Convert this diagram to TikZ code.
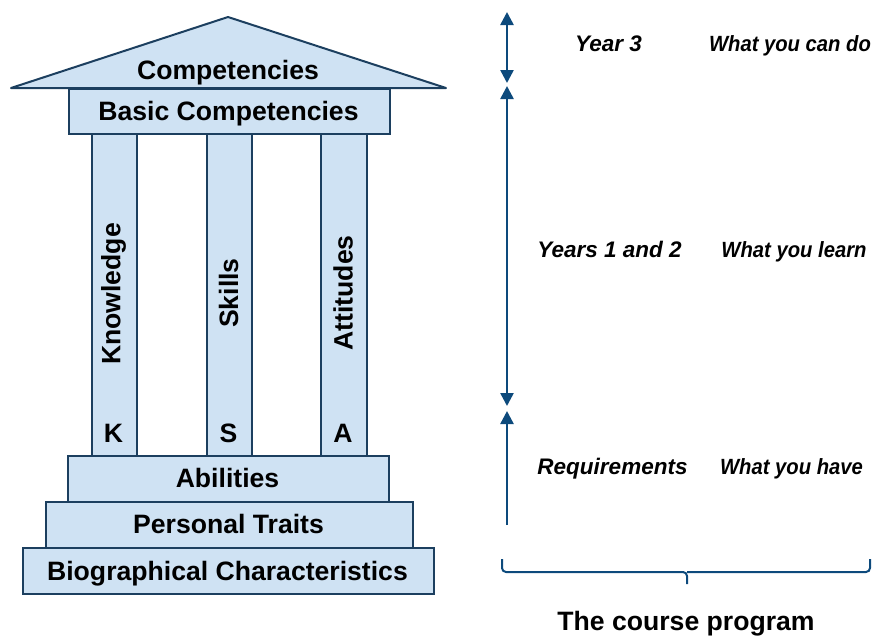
\documentclass[tikz,border=0pt]{standalone}
\usepackage{graphicx}
\usepackage{fontspec}
\setmainfont{Liberation Sans}
\usetikzlibrary{arrows.meta}
\definecolor{fillblue}{HTML}{CFE2F3}
\definecolor{edgeblue}{HTML}{1C3F5F}
\definecolor{arrowblue}{HTML}{0D4A7C}
\newcommand{\narrowtxt}[1]{\scalebox{0.92}[1]{#1}}
\tikzset{
  block/.style={draw=edgeblue, fill=fillblue, line width=2pt, inner sep=0pt, anchor=north west},
  lbl/.style={font=\fontsize{26.6}{28}\selectfont\bfseries, text=black, inner sep=0pt, anchor=base},
  vlbl/.style={font=\fontsize{26.6}{28}\selectfont\bfseries, text=black, inner sep=0pt, rotate=90},
  sidel/.style={font=\fontsize{22.5}{24}\selectfont\bfseries\itshape, text=black, inner sep=0pt, anchor=base},
  sider/.style={font=\fontsize{22}{24}\selectfont\bfseries\itshape, text=black, inner sep=0pt, anchor=base},
  timeline/.style={draw=arrowblue, line width=2.5pt},
  tipboth/.style={{Triangle[width=13pt,length=13pt]}-{Triangle[width=13pt,length=13pt]}},
  tipend/.style={-{Triangle[width=13pt,length=13pt]}},
}
\begin{document}
\begin{tikzpicture}[x=1pt,y=-1pt]
\useasboundingbox (0,0) rectangle (880,638);
% pillars
\node[block, minimum width=45pt, minimum height=322pt] (pk) at (91,133) {};
\node[block, minimum width=45pt, minimum height=322pt] (ps) at (206,133) {};
\node[block, minimum width=46pt, minimum height=322pt] (pa) at (320,133) {};
% roof
\draw[draw=edgeblue, fill=fillblue, line width=2pt, line join=round] (11,88) -- (228,17) -- (446,88) -- cycle;
\node[lbl] (comp) at (228,79) {Competencies};
% basic competencies
\node[block, minimum width=321pt, minimum height=45pt] (basic) at (68,88) {};
\node[lbl] (basict) at (228.5,120) {Basic Competencies};
% base steps
\node[block, minimum width=411pt, minimum height=46pt] (bio) at (22,547) {};
\node[lbl] (biot) at (227.5,580) {Biographical Characteristics};
\node[block, minimum width=367pt, minimum height=46pt] (pers) at (45,501) {};
\node[lbl] (perst) at (228.5,533) {Personal Traits};
\node[block, minimum width=321pt, minimum height=46pt] (abil) at (67,455) {};
\node[lbl] (abilt) at (227.5,487) {Abilities};
% pillar labels
\node[vlbl] (know) at (113.5,294) {Knowledge};
\node[vlbl] (skill) at (228.5,293) {Skills};
\node[vlbl] (att) at (343,293) {Attitudes};
\node[lbl] (k) at (113.5,442) {K};
\node[lbl] (s) at (228.5,442) {S};
\node[lbl] (a) at (343,442) {A};
% timeline
\coordinate (t0) at (507,12);
\coordinate (t1) at (507,83);
\coordinate (t2) at (507,86);
\coordinate (t3) at (507,406);
\coordinate (t4) at (507,411);
\coordinate (t5) at (507,525);
\draw[timeline, tipboth] (t0) -- (t1);
\draw[timeline, tipboth] (t2) -- (t3);
\draw[timeline, tipend] (t5) -- (t4);
% side texts
\node[sidel] (y3) at (608.5,51.5) {Year 3};
\node[sider] (y3w) at (790,51.5) {\narrowtxt{What you can do}};
\node[sidel] (y12) at (609.5,257) {Years 1 and 2};
\node[sider] (y12w) at (794,257) {\narrowtxt{What you learn}};
\node[sidel] (req) at (612.5,474) {Requirements};
\node[sider] (reqw) at (791.5,474) {\narrowtxt{What you have}};
% brace
\coordinate (bl) at (502,559);
\coordinate (br) at (870,559);
\coordinate (bm) at (687,584);
\draw[timeline, line width=2pt, rounded corners=4pt] (bl) -- (502,572) -- (687,572) -- (bm);
\draw[timeline, line width=2pt, rounded corners=4pt] (br) -- (870,572) -- (687,572);
\node[lbl] (course) at (686,630) {The course program};
\end{tikzpicture}
\end{document}
